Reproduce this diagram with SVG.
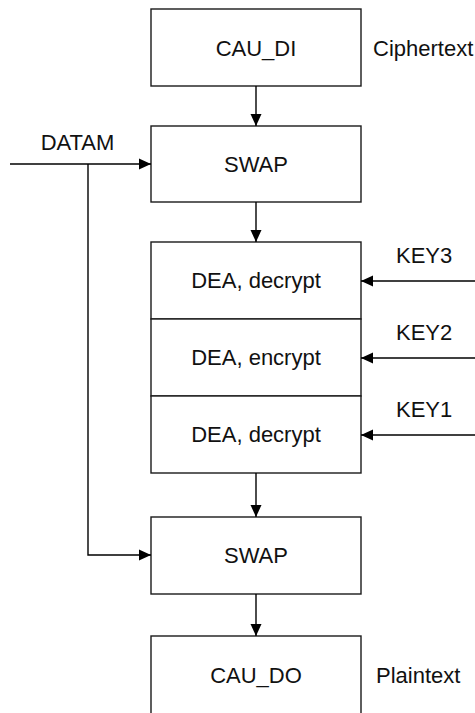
<svg xmlns="http://www.w3.org/2000/svg" width="475" height="713" viewBox="0 0 475 713">
<style>
.box{fill:#fff;stroke:#1a1a1a;stroke-width:1.4}
.t{font-family:"Liberation Sans",Arial,sans-serif;font-size:22px;fill:#111;text-anchor:middle}
.l{font-family:"Liberation Sans",Arial,sans-serif;font-size:22px;fill:#111}
.c{fill:none;stroke:#000;stroke-width:1.4}
</style>
<defs>
<marker id="ah" markerUnits="userSpaceOnUse" markerWidth="14" markerHeight="14" viewBox="-13 -7 14 14" refX="0" refY="0" orient="auto">
<path d="M0,0 L-12,-5.5 L-12,5.5 Z" fill="#000"/>
</marker>
</defs>
<rect width="475" height="713" fill="#fff"/>
<g id="cau_di"><rect class="box" x="151" y="9" width="210" height="77"/><text class="t" x="256" y="55.5">CAU_DI</text></g>
<g id="ciphertext"><text class="l" x="373" y="55.5">Ciphertext</text></g>
<g id="swap1"><rect class="box" x="151" y="126" width="210" height="76"/><text class="t" x="256" y="171.5">SWAP</text></g>
<g id="datam"><text class="t" x="77.5" y="150">DATAM</text></g>
<g id="dea1"><rect class="box" x="151" y="242" width="210" height="77"/><text class="t" x="256" y="288">DEA, decrypt</text></g>
<g id="dea2"><rect class="box" x="151" y="319" width="210" height="77"/><text class="t" x="256" y="365">DEA, encrypt</text></g>
<g id="dea3"><rect class="box" x="151" y="396" width="210" height="77"/><text class="t" x="256" y="442">DEA, decrypt</text></g>
<g id="key3"><text class="l" x="396" y="262.5">KEY3</text></g>
<g id="key2"><text class="l" x="396" y="339.5">KEY2</text></g>
<g id="key1"><text class="l" x="396" y="416.5">KEY1</text></g>
<g id="swap2"><rect class="box" x="151" y="517" width="210" height="77"/><text class="t" x="256" y="563">SWAP</text></g>
<g id="cau_do"><rect class="box" x="151" y="636" width="210" height="80"/><text class="t" x="256" y="683">CAU_DO</text></g>
<g id="plaintext"><text class="l" x="376" y="683">Plaintext</text></g>
<g id="connectors">
<path class="c" d="M256,86 V126" marker-end="url(#ah)"/>
<path class="c" d="M256,202 V242" marker-end="url(#ah)"/>
<path class="c" d="M256,473 V517" marker-end="url(#ah)"/>
<path class="c" d="M256,594 V636" marker-end="url(#ah)"/>
<path class="c" d="M10,164 H151" marker-end="url(#ah)"/>
<path class="c" d="M88,164 V555 H151" marker-end="url(#ah)"/>
<path class="c" d="M475,281 H361" marker-end="url(#ah)"/>
<path class="c" d="M475,358 H361" marker-end="url(#ah)"/>
<path class="c" d="M475,435 H361" marker-end="url(#ah)"/>
</g>
</svg>
